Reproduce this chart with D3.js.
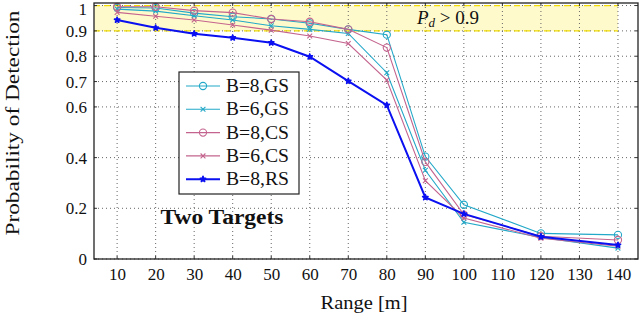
<!DOCTYPE html>
<html><head><meta charset="utf-8">
<script src="https://cdn.jsdelivr.net/npm/d3@7"></script>
<style>body{margin:0;background:#fff}svg{display:block}text{font-family:"Liberation Serif","DejaVu Serif",serif}</style>
</head><body><svg id="c" width="640" height="315"></svg>
<script>
const ranges = [10,20,30,40,50,60,70,80,90,100,120,140];
const b8gs = [0.992,0.990,0.970,0.956,0.947,0.930,0.906,0.885,0.404,0.214,0.101,0.095];
const b6gs = [0.986,0.978,0.960,0.943,0.920,0.906,0.890,0.735,0.350,0.145,0.085,0.043];
const b8cs = [0.995,0.995,0.980,0.972,0.947,0.936,0.906,0.834,0.383,0.175,0.090,0.075];
const b6cs = [0.973,0.958,0.943,0.923,0.903,0.880,0.850,0.706,0.309,0.162,0.082,0.050];
const b8rs = [0.943,0.912,0.889,0.873,0.853,0.798,0.702,0.607,0.243,0.178,0.088,0.055];
const seriesNames = ["B=8,GS","B=6,GS","B=8,CS","B=6,CS","B=8,RS"];
const xTicks = [10,20,30,40,50,60,70,80,90,100,110,120,130,140];
const yTicks = [0,0.2,0.4,0.6,0.7,0.8,0.9,1];
const yTickLabels = ["0","0.2","0.4","0.6","0.7","0.8","0.9","1"];

const cyan="#22a8c8", pink="#c4648e", blue="#0a10f0";
const series=[
 {name:seriesNames[0],vals:b8gs,color:cyan,mark:"o",w:1.1},
 {name:seriesNames[1],vals:b6gs,color:cyan,mark:"x",w:1.1},
 {name:seriesNames[2],vals:b8cs,color:pink,mark:"o",w:1.1},
 {name:seriesNames[3],vals:b6cs,color:pink,mark:"x",w:1.1},
 {name:seriesNames[4],vals:b8rs,color:blue,mark:"*",w:2}
];
const L=94,R=638,T=3,B=259;
const x=d3.scaleLinear().domain([4,145.2]).range([L,R]);
const y=d3.scaleLinear().domain([0,1.01]).range([B,T]);
const svg=d3.select("#c");

svg.append("rect").attr("x",L).attr("y",y(1)).attr("width",x(140)-L).attr("height",y(0.9)-y(1)).attr("fill","#fffacc");
const g=svg.append("g");
xTicks.forEach(t=>g.append("line").attr("x1",x(t)).attr("x2",x(t)).attr("y1",T).attr("y2",B).attr("stroke","#666").attr("stroke-width",1).attr("stroke-dasharray","1,3"));
yTicks.forEach(t=>g.append("line").attr("x1",L).attr("x2",R).attr("y1",y(t)).attr("y2",y(t)).attr("stroke","#666").attr("stroke-width",1).attr("stroke-dasharray","1,3"));
[0.9,1].forEach(v=>svg.append("line").attr("x1",L).attr("x2",x(140)).attr("y1",y(v)).attr("y2",y(v)).attr("stroke","#f2dc00").attr("stroke-width",1.3).attr("stroke-dasharray","6,4"));
const pt=svg.append("text").attr("x",448).attr("y",24).attr("text-anchor","middle").attr("font-size",19).attr("fill","#111");
pt.append("tspan").attr("font-style","italic").text("P");
pt.append("tspan").attr("font-style","italic").attr("font-size",13).attr("dy",3).text("d");
pt.append("tspan").attr("dy",-3).text(" > 0.9");

const xa=svg.append("g").attr("transform",`translate(0,${B})`).call(d3.axisBottom(x).tickValues(xTicks).tickSize(0).tickPadding(9));
const ya=svg.append("g").attr("transform",`translate(${L},0)`).call(d3.axisLeft(y).tickValues(yTicks).tickFormat((d,i)=>yTickLabels[i]).tickSize(0).tickPadding(7));
[xa,ya].forEach(a=>{a.select(".domain").remove();a.selectAll("text").attr("font-size",17).attr("font-family","Liberation Serif").attr("fill","#111");});
ya.selectAll("text").filter((d)=>d===1).attr("dy","0.5em");
xTicks.forEach(t=>{svg.append("line").attr("x1",x(t)).attr("x2",x(t)).attr("y1",B).attr("y2",B-3).attr("stroke","#333");svg.append("line").attr("x1",x(t)).attr("x2",x(t)).attr("y1",T).attr("y2",T+3).attr("stroke","#333");});
yTicks.forEach(t=>{svg.append("line").attr("x1",L).attr("x2",L+3).attr("y1",y(t)).attr("y2",y(t)).attr("stroke","#333");svg.append("line").attr("x1",R).attr("x2",R-3).attr("y1",y(t)).attr("y2",y(t)).attr("stroke","#333");});

function drawMark(sel,m,cx,cy,color){
  if(m==="o") sel.append("circle").attr("cx",cx).attr("cy",cy).attr("r",3.6).attr("fill","none").attr("stroke",color).attr("stroke-width",1.1);
  else if(m==="x"){const s=2.4;sel.append("path").attr("d",`M${cx-s},${cy-s}L${cx+s},${cy+s}M${cx-s},${cy+s}L${cx+s},${cy-s}`).attr("stroke",color).attr("stroke-width",1.1);}
  else sel.append("path").attr("d",d3.symbol(d3.symbolStar,9)()).attr("transform",`translate(${cx},${cy})`).attr("fill",color).attr("stroke",color).attr("stroke-width",1.6).attr("stroke-linejoin","round");
}
const line=d3.line().x((d,i)=>x(ranges[i])).y(d=>y(d));
series.forEach(s=>{
  const gg=svg.append("g");
  gg.append("path").datum(s.vals).attr("d",line).attr("fill","none").attr("stroke",s.color).attr("stroke-width",s.w);
  s.vals.forEach((v,i)=>drawMark(gg,s.mark,x(ranges[i]),y(v),s.color));
});
svg.append("rect").attr("x",L).attr("y",T).attr("width",R-L).attr("height",B-T).attr("fill","none").attr("stroke","#222").attr("stroke-width",1.3);

const lg=svg.append("g");
lg.append("rect").attr("x",179).attr("y",72).attr("width",120).attr("height",122).attr("fill","#fff").attr("stroke","#222").attr("stroke-width",1.2);
series.forEach((s,i)=>{
  const yy=86+i*23.3;
  lg.append("line").attr("x1",186).attr("x2",220).attr("y1",yy).attr("y2",yy).attr("stroke",s.color).attr("stroke-width",s.w);
  drawMark(lg,s.mark,203,yy,s.color);
  lg.append("text").attr("x",226).attr("y",yy+6).attr("font-size",18.5).attr("textLength",63).attr("lengthAdjust","spacingAndGlyphs").attr("fill","#111").text(s.name);
});
svg.append("text").attr("x",222).attr("y",224).attr("text-anchor","middle").attr("font-size",20).attr("font-weight","bold").attr("textLength",123).attr("lengthAdjust","spacingAndGlyphs").attr("fill","#111").text("Two Targets");
svg.append("text").attr("x",364).attr("y",309).attr("text-anchor","middle").attr("font-size",19).attr("textLength",87).attr("lengthAdjust","spacingAndGlyphs").attr("fill","#111").text("Range [m]");
svg.append("text").attr("transform","translate(19,123) rotate(-90)").attr("text-anchor","middle").attr("font-size",18.5).attr("textLength",225).attr("lengthAdjust","spacingAndGlyphs").attr("fill","#111").text("Probability of Detection");
</script></body></html>
